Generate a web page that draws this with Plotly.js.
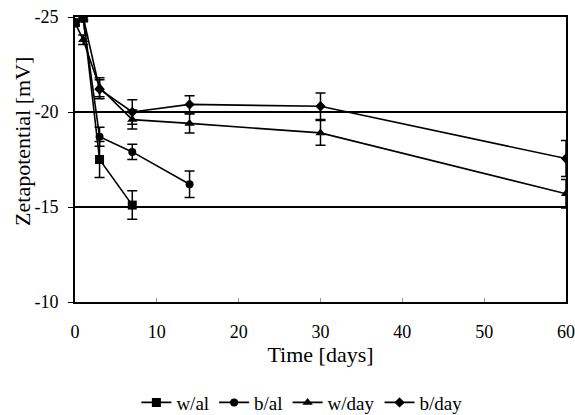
<!DOCTYPE html>
<html><head><meta charset="utf-8">
<script src="https://cdn.plot.ly/plotly-3.0.1.min.js"></script>
<style>body{margin:0;background:#fff}#c{width:575px;height:415px}</style>
</head><body><div id="c"></div>
<script>
const days_al = [0, 1, 3, 7];
const wal = [-24.7, -25.0, -17.5, -15.1];
const wal_err = [0.15, 0.15, 0.95, 0.75];
const days_bal = [0, 1, 3, 7, 14];
const bal = [-24.7, -24.9, -18.7, -17.9, -16.2];
const bal_err = [0.15, 0.15, 0.5, 0.4, 0.7];
const days_day = [0, 1, 3, 7, 14, 30, 60];
const wday = [-24.7, -23.8, -21.3, -19.6, -19.4, -18.9, -15.7];
const wday_err = [0.15, 0.25, 0.5, 0.5, 0.5, 0.65, 0.75];
const bday = [-24.7, -25.0, -21.2, -20.0, -20.4, -20.3, -17.55];
const bday_err = [0.15, 0.15, 0.5, 0.65, 0.45, 0.7, 0.95];
const yTickVals = [-25, -20, -15, -10];
const yTickText = ['-25', '-20', '-15', '-10'];
const xTickVals = [0, 10, 20, 30, 40, 50, 60];
const xTickText = ['0', '10', '20', '30', '40', '50', '60'];
const yTitle = 'Zetapotential [mV]';
const xTitle = 'Time [days]';

function tr(name, x, y, e, sym, size) {
  return {
    type: 'scatter', mode: 'lines+markers', name: name, x: x, y: y,
    line: {color: '#000', width: 1.6},
    marker: {symbol: sym, size: size, color: '#000'},
    error_y: {type: 'data', array: e, visible: true, color: '#000', thickness: 1.5, width: 5}
  };
}
const data = [
  tr('w/al', days_al, wal, wal_err, 'square', 9),
  tr('b/al', days_bal, bal, bal_err, 'circle', 8),
  tr('w/day', days_day, wday, wday_err, 'triangle-up', 9),
  tr('b/day', days_day, bday, bday_err, 'diamond', 8)
];
const layout = {
  width: 575, height: 415,
  margin: {l: 75, r: 9, t: 17, b: 113, autoexpand: false},
  paper_bgcolor: '#fff', plot_bgcolor: '#fff',
  font: {family: 'Liberation Serif', color: '#000', size: 17},
  showlegend: true,
  legend: {orientation: 'h', x: 0.525, xanchor: 'center', xref: 'container',
           y: 0.03, yanchor: 'middle', yref: 'container',
           font: {size: 19, color: '#000'}, itemwidth: 30, tracegroupgap: 0},
  xaxis: {range: [0, 60], tickvals: xTickVals, ticktext: xTickText,
          showgrid: false, zeroline: false, automargin: false,
          showline: true, linecolor: '#000', linewidth: 2, mirror: true,
          ticks: 'inside', ticklen: 4, tickcolor: '#999',
          tickfont: {size: 18, color: '#000'}, ticklabelstandoff: 12, ticklabeloverflow: 'allow',
          title: {text: xTitle, font: {size: 22, color: '#000'}, standoff: 6}},
  yaxis: {range: [-10, -25], tickvals: yTickVals, ticktext: yTickText,
          showgrid: true, gridcolor: '#000', gridwidth: 1.5, automargin: false,
          zeroline: false, showline: true, linecolor: '#000', linewidth: 2, mirror: true,
          ticks: 'outside', ticklen: 5, tickcolor: '#000',
          tickfont: {size: 18, color: '#000'}, ticklabelstandoff: 6},
  annotations: [{text: yTitle, textangle: -90, xref: 'paper', yref: 'paper',
                 x: -0.106, y: 0.565, xanchor: 'center', yanchor: 'middle',
                 showarrow: false, font: {size: 22, color: '#000'}}]
};
Plotly.newPlot('c', data, layout, {displayModeBar: false, staticPlot: true});
</script></body></html>
